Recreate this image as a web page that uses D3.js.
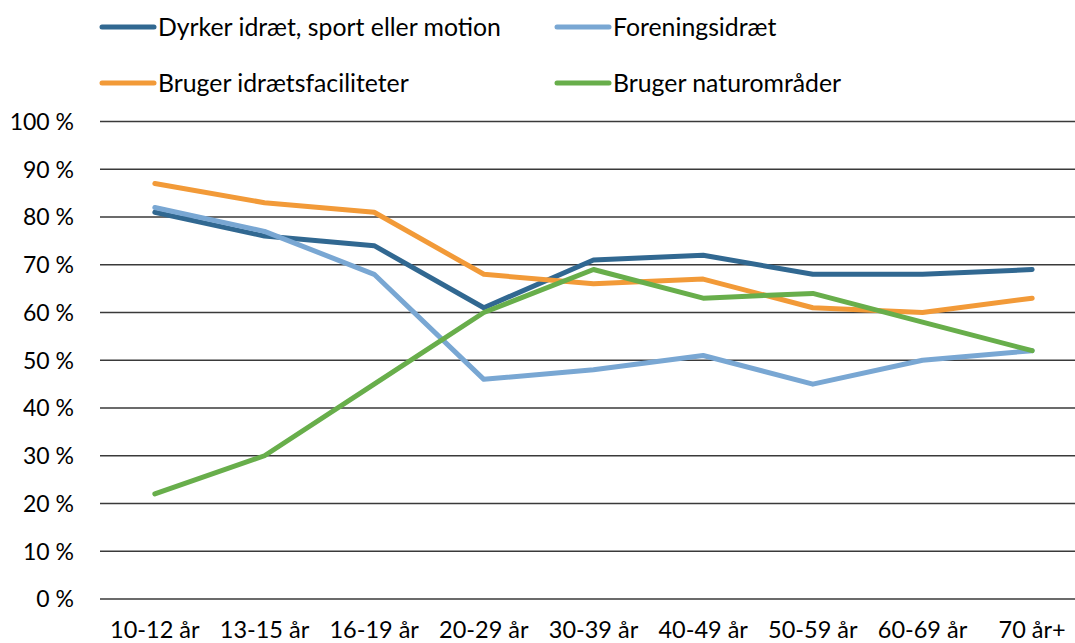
<!DOCTYPE html>
<html><head><meta charset="utf-8">
<script src="https://cdn.jsdelivr.net/npm/d3@7"></script>
<style>body{margin:0;background:#fff}svg{display:block}text{font-family:Lato,"Open Sans",sans-serif;fill:#000}</style>
</head><body><svg id="c" width="1075" height="643"></svg>
<script>
const categories = ["10-12 år","13-15 år","16-19 år","20-29 år","30-39 år","40-49 år","50-59 år","60-69 år","70 år+"];
const dyrker = [81,76,74,61,71,72,68,68,69];
const forening = [82,77,68,46,48,51,45,50,52];
const faciliteter = [87,83,81,68,66,67,61,60,63];
const natur = [22,30,45,60,69,63,64,58,52];
const yTicks = [0,10,20,30,40,50,60,70,80,90,100];
const seriesNames = ["Dyrker idræt, sport eller motion","Foreningsidræt","Bruger idrætsfaciliteter","Bruger naturområder"];
const colors = ["#316891","#79a7d3","#f29a38","#68ae4b"];

const series = [
  {name: seriesNames[0], values: dyrker, color: colors[0]},
  {name: seriesNames[1], values: forening, color: colors[1]},
  {name: seriesNames[2], values: faciliteter, color: colors[2]},
  {name: seriesNames[3], values: natur, color: colors[3]}
];

const svg = d3.select("#c");
const x = d3.scaleBand().domain(categories).range([100, 1087]);
const y = d3.scaleLinear().domain([0,100]).range([599, 121.5]);

svg.append("g").selectAll("line").data(yTicks).join("line")
  .attr("x1", 100).attr("x2", 1075)
  .attr("y1", d => y(d)).attr("y2", d => y(d))
  .attr("stroke", "#3a3a3a").attr("stroke-width", 1.5);

svg.append("g").selectAll("text").data(yTicks).join("text")
  .attr("x", 74).attr("y", d => y(d)).attr("dy", "0.36em")
  .attr("text-anchor", "end").attr("font-size", 23)
  .text(d => d + " %");

svg.append("g").selectAll("text").data(categories).join("text")
  .attr("x", d => x(d) + x.bandwidth()/2).attr("y", 638)
  .attr("text-anchor", "middle").attr("font-size", 23.5)
  .text(d => d);

const line = d3.line().x((d,i) => x(categories[i]) + x.bandwidth()/2).y(d => y(d));
svg.append("g").selectAll("path").data(series).join("path")
  .attr("d", d => line(d.values))
  .attr("fill", "none").attr("stroke", d => d.color)
  .attr("stroke-width", 5).attr("stroke-linecap", "round").attr("stroke-linejoin", "round");

const legendPos = [[100,27],[555,27],[100,83],[555,83]];
const lg = svg.append("g").selectAll("g").data(series).join("g")
  .attr("transform", (d,i) => `translate(${legendPos[i][0]},${legendPos[i][1]})`);
lg.append("line").attr("x1", 2).attr("x2", 54).attr("y1", 0).attr("y2", 0)
  .attr("stroke", d => d.color).attr("stroke-width", 5).attr("stroke-linecap", "round");
lg.append("text").attr("x", 58).attr("y", 0).attr("dy", "0.36em")
  .attr("font-size", 24.8).text(d => d.name);
</script></body></html>
